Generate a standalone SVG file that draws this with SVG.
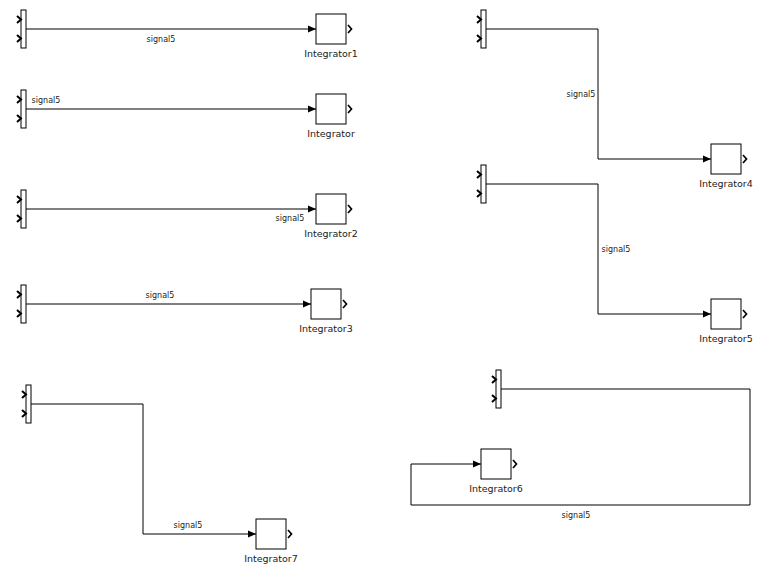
<svg xmlns="http://www.w3.org/2000/svg" width="763" height="574" viewBox="0 0 763 574">
<style>
.bar{fill:#fff;stroke:#000;stroke-width:1}
.blk{fill:#fff;stroke:#000;stroke-width:1}
.chev{fill:none;stroke:#000;stroke-width:2}
.och{fill:none;stroke:#000;stroke-width:1.7}
.wire{fill:none;stroke:#000;stroke-width:1}
.lbl{font-family:"DejaVu Sans",sans-serif;font-size:9.5px;fill:#222;text-anchor:middle}
.sig{font-family:"DejaVu Sans",sans-serif;font-size:8px;fill:#222;text-anchor:middle}
</style>
<defs>
<marker id="arr" viewBox="0 0 8 8" refX="8" refY="4" markerWidth="8" markerHeight="8" markerUnits="userSpaceOnUse" orient="auto">
<path d="M0,0.5 L8,4 L0,7.5 Z" fill="#000"/>
</marker>
<g id="mux">
<rect class="bar" x="0" y="0" width="5" height="38"/>
<path class="chev" d="M-4,6 L0,9.5 L-4,13 M-4,25 L0,28.5 L-4,32"/>
</g>
<g id="integ">
<rect class="blk" x="0" y="0" width="30" height="30"/>
<path class="och" d="M32,11 L35.5,15 L32,19"/>
</g>
</defs>
<g id="connectors">
<path class="wire" d="M26,29 H316" marker-end="url(#arr)"/>
<path class="wire" d="M26,109 H316" marker-end="url(#arr)"/>
<path class="wire" d="M26,209 H316" marker-end="url(#arr)"/>
<path class="wire" d="M26,304 H311" marker-end="url(#arr)"/>
<path class="wire" d="M486,29 H598 V159 H711" marker-end="url(#arr)"/>
<path class="wire" d="M486,184 H598 V314 H711" marker-end="url(#arr)"/>
<path class="wire" d="M501,389 H750 V505 H411 V464 H481" marker-end="url(#arr)"/>
<path class="wire" d="M31,404 H143 V534 H256" marker-end="url(#arr)"/>
<text class="sig" x="161" y="42">signal5</text>
<text class="sig" x="46" y="103">signal5</text>
<text class="sig" x="290" y="221">signal5</text>
<text class="sig" x="160" y="298">signal5</text>
<text class="sig" x="581" y="97">signal5</text>
<text class="sig" x="616" y="252">signal5</text>
<text class="sig" x="576" y="518">signal5</text>
<text class="sig" x="188" y="528">signal5</text>
</g>
<g id="mux1"><use href="#mux" x="21" y="10"/></g>
<g id="mux2"><use href="#mux" x="21" y="90"/></g>
<g id="mux3"><use href="#mux" x="21" y="190"/></g>
<g id="mux4"><use href="#mux" x="21" y="285"/></g>
<g id="mux5"><use href="#mux" x="481" y="10"/></g>
<g id="mux6"><use href="#mux" x="481" y="165"/></g>
<g id="mux7"><use href="#mux" x="496" y="370"/></g>
<g id="mux8"><use href="#mux" x="26" y="385"/></g>
<g id="Integrator1"><use href="#integ" x="316" y="14"/><text class="lbl" x="331" y="57">Integrator1</text></g>
<g id="Integrator"><use href="#integ" x="316" y="94"/><text class="lbl" x="331" y="137">Integrator</text></g>
<g id="Integrator2"><use href="#integ" x="316" y="194"/><text class="lbl" x="331" y="237">Integrator2</text></g>
<g id="Integrator3"><use href="#integ" x="311" y="289"/><text class="lbl" x="326" y="332">Integrator3</text></g>
<g id="Integrator4"><use href="#integ" x="711" y="144"/><text class="lbl" x="726" y="187">Integrator4</text></g>
<g id="Integrator5"><use href="#integ" x="711" y="299"/><text class="lbl" x="726" y="342">Integrator5</text></g>
<g id="Integrator6"><use href="#integ" x="481" y="449"/><text class="lbl" x="496" y="492">Integrator6</text></g>
<g id="Integrator7"><use href="#integ" x="256" y="519"/><text class="lbl" x="271" y="562">Integrator7</text></g>
</svg>
